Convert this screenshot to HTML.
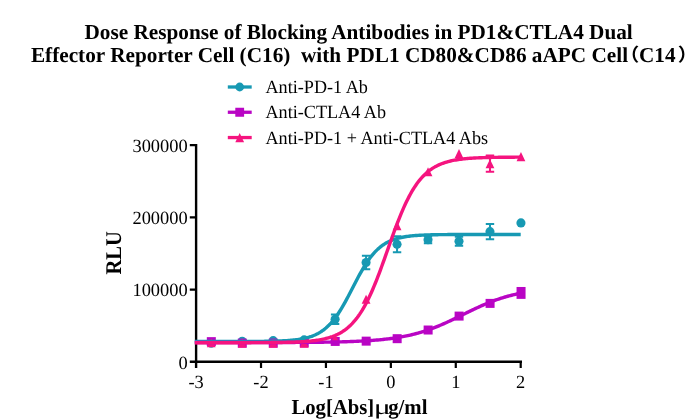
<!DOCTYPE html>
<html><head><meta charset="utf-8"><title>Dose Response</title>
<style>
html,body{margin:0;padding:0;background:#fff;}
svg{display:block;}
text{font-family:"Liberation Serif","Noto Serif CJK SC",serif;fill:#000;text-rendering:geometricPrecision;}
.t{font-size:18.67px;}
.l{font-size:18.67px;}
.b{font-size:21.33px;font-weight:bold;}
.cj{font-family:"Noto Sans CJK SC","Liberation Serif",sans-serif;font-weight:bold;font-size:18px;}
</style></head><body>
<svg width="695" height="420" viewBox="0 0 695 420">
<rect width="695" height="420" fill="#fff"/>
<text id="t1" transform="translate(358.65,38.50) scale(0.996,1)" text-anchor="middle" class="b">Dose Response of Blocking Antibodies in PD1&amp;CTLA4 Dual</text>
<text id="t2" transform="translate(30.90,62.20) scale(0.9965,1)" text-anchor="start" class="b" xml:space="preserve" style="white-space:pre">Effector Reporter Cell (C16)  with PDL1 CD80&amp;CD86 aAPC Cell</text>
<text id="t3" transform="translate(639.00,62.20) scale(0.993,1)" text-anchor="start" class="b">C14</text>
<text id="p1" transform="translate(639.30,61.40) scale(1.1,1)" text-anchor="end" class="b cj">（</text>
<text id="p2" transform="translate(677.80,61.40) scale(1.1,1)" text-anchor="start" class="b cj">）</text>
<path d="M227.8,87.0 H251.7" stroke="#1799b3" stroke-width="3.3" fill="none"/>
<circle cx="239.7" cy="87.0" r="4.4" fill="#1799b3"/>
<text transform="translate(265.50,93.10) scale(0.973,1)" text-anchor="start" class="l">Anti-PD-1 Ab</text>
<path d="M227.8,112.25 H251.7" stroke="#b905c4" stroke-width="3.3" fill="none"/>
<rect x="235.30" y="107.75" width="8.8" height="9" fill="#b905c4"/>
<text transform="translate(265.50,118.10) scale(0.973,1)" text-anchor="start" class="l">Anti-CTLA4 Ab</text>
<path d="M227.8,137.55 H251.7" stroke="#f5147f" stroke-width="3.3" fill="none"/>
<path d="M239.7,133.05 L244.10,142.15 H235.30 Z" fill="#f5147f"/>
<text transform="translate(265.50,143.60) scale(0.973,1)" text-anchor="start" class="l">Anti-PD-1 + Anti-CTLA4 Abs</text>
<path d="M196.1,143.9 V368 M189.8,361.7 H522" fill="none" stroke="#000" stroke-width="2.4"/>
<path d="M189.8,289.53 H196.1 M189.8,217.36 H196.1 M189.8,145.19 H196.1 M261.02,361.7 V368 M325.94,361.7 V368 M390.86,361.7 V368 M455.78,361.7 V368 M520.70,361.7 V368 " fill="none" stroke="#000" stroke-width="2.2"/>
<text transform="translate(187.70,368.50) scale(0.987,1)" text-anchor="end" class="t">0</text>
<text transform="translate(187.70,296.33) scale(0.987,1)" text-anchor="end" class="t">100000</text>
<text transform="translate(187.70,224.16) scale(0.987,1)" text-anchor="end" class="t">200000</text>
<text transform="translate(187.70,151.99) scale(0.987,1)" text-anchor="end" class="t">300000</text>
<text transform="translate(196.10,387.80) scale(0.985,1)" text-anchor="middle" class="t">-3</text>
<text transform="translate(261.02,387.80) scale(0.985,1)" text-anchor="middle" class="t">-2</text>
<text transform="translate(325.94,387.80) scale(0.985,1)" text-anchor="middle" class="t">-1</text>
<text transform="translate(390.86,387.80) scale(0.985,1)" text-anchor="middle" class="t">0</text>
<text transform="translate(455.78,387.80) scale(0.985,1)" text-anchor="middle" class="t">1</text>
<text transform="translate(520.70,387.80) scale(0.985,1)" text-anchor="middle" class="t">2</text>

<circle cx="211.22" cy="343.23" r="4.55" fill="#1799b3"/>

<circle cx="242.19" cy="341.28" r="4.55" fill="#1799b3"/>

<circle cx="273.16" cy="340.63" r="4.55" fill="#1799b3"/>

<circle cx="304.14" cy="339.91" r="4.55" fill="#1799b3"/>
<path d="M335.11,314.42 V324.12 M330.91,314.42 H339.31 M330.91,324.12 H339.31" fill="none" stroke="#1799b3" stroke-width="2.0"/>
<circle cx="335.11" cy="319.27" r="4.55" fill="#1799b3"/>
<path d="M366.08,255.74 V269.34 M361.88,255.74 H370.28 M361.88,269.34 H370.28" fill="none" stroke="#1799b3" stroke-width="2.0"/>
<circle cx="366.08" cy="262.54" r="4.55" fill="#1799b3"/>
<path d="M397.06,236.36 V252.36 M392.86,236.36 H401.26 M392.86,252.36 H401.26" fill="none" stroke="#1799b3" stroke-width="2.0"/>
<circle cx="397.06" cy="244.36" r="4.55" fill="#1799b3"/>
<path d="M428.03,236.17 V243.17 M423.83,236.17 H432.23 M423.83,243.17 H432.23" fill="none" stroke="#1799b3" stroke-width="2.0"/>
<circle cx="428.03" cy="239.67" r="4.55" fill="#1799b3"/>
<path d="M459.00,236.68 V245.68 M454.80,236.68 H463.20 M454.80,245.68 H463.20" fill="none" stroke="#1799b3" stroke-width="2.0"/>
<circle cx="459.00" cy="241.18" r="4.55" fill="#1799b3"/>
<path d="M489.98,224.06 V239.26 M485.78,224.06 H494.18 M485.78,239.26 H494.18" fill="none" stroke="#1799b3" stroke-width="2.0"/>
<circle cx="489.98" cy="231.66" r="4.55" fill="#1799b3"/>

<circle cx="520.95" cy="222.92" r="4.55" fill="#1799b3"/>
<rect x="206.82" y="337.14" width="9" height="9.00" fill="#b905c4"/>
<rect x="237.79" y="338.59" width="9" height="9.00" fill="#b905c4"/>
<rect x="268.76" y="338.59" width="9" height="9.00" fill="#b905c4"/>
<rect x="299.74" y="338.37" width="9" height="9.00" fill="#b905c4"/>
<rect x="330.71" y="336.93" width="9" height="9.00" fill="#b905c4"/>
<rect x="361.68" y="336.64" width="9" height="9.00" fill="#b905c4"/>
<rect x="392.66" y="334.18" width="9" height="9.00" fill="#b905c4"/>
<rect x="423.63" y="325.52" width="9" height="9.00" fill="#b905c4"/>
<rect x="454.60" y="311.59" width="9" height="9.00" fill="#b905c4"/>
<rect x="485.58" y="298.89" width="9" height="9.00" fill="#b905c4"/>
<rect x="516.55" y="286.98" width="9" height="11.90" fill="#b905c4"/>

<path d="M211.22,338.17 L215.62,347.27 H206.82 Z" fill="#f5147f"/>

<path d="M242.19,338.54 L246.59,347.64 H237.79 Z" fill="#f5147f"/>

<path d="M273.16,338.54 L277.56,347.64 H268.76 Z" fill="#f5147f"/>

<path d="M304.14,338.54 L308.54,347.64 H299.74 Z" fill="#f5147f"/>

<path d="M335.11,333.99 L339.51,343.09 H330.71 Z" fill="#f5147f"/>

<path d="M366.08,294.73 L370.48,303.83 H361.68 Z" fill="#f5147f"/>

<path d="M397.06,221.12 L401.46,230.22 H392.66 Z" fill="#f5147f"/>

<path d="M428.03,167.13 L432.43,176.23 H423.63 Z" fill="#f5147f"/>

<path d="M459.00,149.09 L463.40,158.19 H454.60 Z" fill="#f5147f"/>
<path d="M489.98,155.49 V171.69 M485.78,155.49 H494.18 M485.78,171.69 H494.18" fill="none" stroke="#f5147f" stroke-width="2.0"/>
<path d="M489.98,159.19 L494.38,168.29 H485.58 Z" fill="#f5147f"/>

<path d="M520.95,152.12 L525.35,161.22 H516.55 Z" fill="#f5147f"/>
<path d="M194.80,341.49 L196.10,341.49 L197.40,341.49 L198.70,341.49 L200.00,341.49 L201.29,341.49 L202.59,341.49 L203.89,341.49 L205.19,341.49 L206.49,341.49 L207.79,341.49 L209.08,341.49 L210.38,341.49 L211.68,341.49 L212.98,341.49 L214.28,341.49 L215.58,341.49 L216.87,341.49 L218.17,341.49 L219.47,341.49 L220.77,341.49 L222.07,341.48 L223.37,341.48 L224.66,341.48 L225.96,341.48 L227.26,341.48 L228.56,341.48 L229.86,341.48 L231.16,341.48 L232.46,341.48 L233.75,341.47 L235.05,341.47 L236.35,341.47 L237.65,341.47 L238.95,341.46 L240.25,341.46 L241.54,341.46 L242.84,341.46 L244.14,341.45 L245.44,341.45 L246.74,341.44 L248.04,341.44 L249.33,341.43 L250.63,341.43 L251.93,341.42 L253.23,341.41 L254.53,341.41 L255.83,341.40 L257.12,341.39 L258.42,341.38 L259.72,341.37 L261.02,341.35 L262.32,341.34 L263.62,341.33 L264.92,341.31 L266.21,341.29 L267.51,341.27 L268.81,341.25 L270.11,341.23 L271.41,341.20 L272.71,341.17 L274.00,341.14 L275.30,341.10 L276.60,341.07 L277.90,341.02 L279.20,340.98 L280.50,340.93 L281.79,340.87 L283.09,340.81 L284.39,340.74 L285.69,340.67 L286.99,340.59 L288.29,340.50 L289.58,340.40 L290.88,340.30 L292.18,340.18 L293.48,340.05 L294.78,339.91 L296.08,339.76 L297.38,339.59 L298.67,339.41 L299.97,339.20 L301.27,338.98 L302.57,338.74 L303.87,338.48 L305.17,338.19 L306.46,337.87 L307.76,337.52 L309.06,337.15 L310.36,336.74 L311.66,336.29 L312.96,335.80 L314.25,335.27 L315.55,334.69 L316.85,334.07 L318.15,333.39 L319.45,332.65 L320.75,331.85 L322.04,330.99 L323.34,330.06 L324.64,329.06 L325.94,327.99 L327.24,326.84 L328.54,325.60 L329.84,324.28 L331.13,322.87 L332.43,321.37 L333.73,319.79 L335.03,318.11 L336.33,316.34 L337.63,314.47 L338.92,312.52 L340.22,310.49 L341.52,308.37 L342.82,306.17 L344.12,303.90 L345.42,301.57 L346.71,299.18 L348.01,296.74 L349.31,294.26 L350.61,291.76 L351.91,289.24 L353.21,286.72 L354.50,284.20 L355.80,281.69 L357.10,279.22 L358.40,276.78 L359.70,274.39 L361.00,272.06 L362.30,269.79 L363.59,267.59 L364.89,265.47 L366.19,263.43 L367.49,261.48 L368.79,259.62 L370.09,257.85 L371.38,256.17 L372.68,254.58 L373.98,253.08 L375.28,251.68 L376.58,250.36 L377.88,249.12 L379.17,247.97 L380.47,246.89 L381.77,245.89 L383.07,244.96 L384.37,244.10 L385.67,243.31 L386.96,242.57 L388.26,241.89 L389.56,241.26 L390.86,240.69 L392.16,240.16 L393.46,239.67 L394.76,239.22 L396.05,238.81 L397.35,238.43 L398.65,238.09 L399.95,237.77 L401.25,237.48 L402.55,237.22 L403.84,236.97 L405.14,236.75 L406.44,236.55 L407.74,236.37 L409.04,236.20 L410.34,236.04 L411.63,235.90 L412.93,235.78 L414.23,235.66 L415.53,235.55 L416.83,235.46 L418.13,235.37 L419.42,235.29 L420.72,235.21 L422.02,235.15 L423.32,235.08 L424.62,235.03 L425.92,234.98 L427.22,234.93 L428.51,234.89 L429.81,234.85 L431.11,234.82 L432.41,234.79 L433.71,234.76 L435.01,234.73 L436.30,234.71 L437.60,234.68 L438.90,234.66 L440.20,234.65 L441.50,234.63 L442.80,234.62 L444.09,234.60 L445.39,234.59 L446.69,234.58 L447.99,234.57 L449.29,234.56 L450.59,234.55 L451.88,234.54 L453.18,234.54 L454.48,234.53 L455.78,234.52 L457.08,234.52 L458.38,234.51 L459.68,234.51 L460.97,234.50 L462.27,234.50 L463.57,234.50 L464.87,234.49 L466.17,234.49 L467.47,234.49 L468.76,234.49 L470.06,234.49 L471.36,234.48 L472.66,234.48 L473.96,234.48 L475.26,234.48 L476.55,234.48 L477.85,234.48 L479.15,234.48 L480.45,234.47 L481.75,234.47 L483.05,234.47 L484.34,234.47 L485.64,234.47 L486.94,234.47 L488.24,234.47 L489.54,234.47 L490.84,234.47 L492.14,234.47 L493.43,234.47 L494.73,234.47 L496.03,234.47 L497.33,234.47 L498.63,234.47 L499.93,234.47 L501.22,234.47 L502.52,234.47 L503.82,234.47 L505.12,234.47 L506.42,234.47 L507.72,234.47 L509.01,234.47 L510.31,234.47 L511.61,234.47 L512.91,234.47 L514.21,234.47 L515.51,234.47 L516.80,234.46 L518.10,234.46 L519.40,234.46 L520.70,234.46" fill="none" stroke="#1799b3" stroke-width="3.4" stroke-linejoin="round"/>
<path d="M194.80,342.57 L196.10,342.57 L197.40,342.57 L198.70,342.57 L200.00,342.57 L201.29,342.57 L202.59,342.57 L203.89,342.57 L205.19,342.57 L206.49,342.57 L207.79,342.57 L209.08,342.57 L210.38,342.57 L211.68,342.57 L212.98,342.57 L214.28,342.57 L215.58,342.57 L216.87,342.57 L218.17,342.57 L219.47,342.57 L220.77,342.57 L222.07,342.56 L223.37,342.56 L224.66,342.56 L225.96,342.56 L227.26,342.56 L228.56,342.56 L229.86,342.56 L231.16,342.56 L232.46,342.56 L233.75,342.56 L235.05,342.56 L236.35,342.56 L237.65,342.56 L238.95,342.56 L240.25,342.55 L241.54,342.55 L242.84,342.55 L244.14,342.55 L245.44,342.55 L246.74,342.55 L248.04,342.55 L249.33,342.55 L250.63,342.55 L251.93,342.54 L253.23,342.54 L254.53,342.54 L255.83,342.54 L257.12,342.54 L258.42,342.54 L259.72,342.53 L261.02,342.53 L262.32,342.53 L263.62,342.53 L264.92,342.53 L266.21,342.52 L267.51,342.52 L268.81,342.52 L270.11,342.52 L271.41,342.51 L272.71,342.51 L274.00,342.51 L275.30,342.50 L276.60,342.50 L277.90,342.50 L279.20,342.49 L280.50,342.49 L281.79,342.48 L283.09,342.48 L284.39,342.48 L285.69,342.47 L286.99,342.47 L288.29,342.46 L289.58,342.46 L290.88,342.45 L292.18,342.44 L293.48,342.44 L294.78,342.43 L296.08,342.42 L297.38,342.42 L298.67,342.41 L299.97,342.40 L301.27,342.39 L302.57,342.38 L303.87,342.38 L305.17,342.37 L306.46,342.36 L307.76,342.35 L309.06,342.34 L310.36,342.32 L311.66,342.31 L312.96,342.30 L314.25,342.29 L315.55,342.27 L316.85,342.26 L318.15,342.25 L319.45,342.23 L320.75,342.21 L322.04,342.20 L323.34,342.18 L324.64,342.16 L325.94,342.14 L327.24,342.12 L328.54,342.10 L329.84,342.08 L331.13,342.05 L332.43,342.03 L333.73,342.00 L335.03,341.98 L336.33,341.95 L337.63,341.92 L338.92,341.89 L340.22,341.86 L341.52,341.83 L342.82,341.79 L344.12,341.75 L345.42,341.72 L346.71,341.68 L348.01,341.63 L349.31,341.59 L350.61,341.55 L351.91,341.50 L353.21,341.45 L354.50,341.40 L355.80,341.34 L357.10,341.28 L358.40,341.23 L359.70,341.16 L361.00,341.10 L362.30,341.03 L363.59,340.96 L364.89,340.89 L366.19,340.81 L367.49,340.73 L368.79,340.65 L370.09,340.56 L371.38,340.47 L372.68,340.37 L373.98,340.27 L375.28,340.17 L376.58,340.06 L377.88,339.95 L379.17,339.83 L380.47,339.71 L381.77,339.58 L383.07,339.45 L384.37,339.31 L385.67,339.16 L386.96,339.01 L388.26,338.86 L389.56,338.69 L390.86,338.53 L392.16,338.35 L393.46,338.17 L394.76,337.98 L396.05,337.78 L397.35,337.57 L398.65,337.36 L399.95,337.14 L401.25,336.91 L402.55,336.67 L403.84,336.42 L405.14,336.17 L406.44,335.90 L407.74,335.62 L409.04,335.34 L410.34,335.05 L411.63,334.74 L412.93,334.43 L414.23,334.10 L415.53,333.77 L416.83,333.42 L418.13,333.06 L419.42,332.69 L420.72,332.31 L422.02,331.92 L423.32,331.52 L424.62,331.11 L425.92,330.68 L427.22,330.25 L428.51,329.80 L429.81,329.34 L431.11,328.87 L432.41,328.39 L433.71,327.90 L435.01,327.40 L436.30,326.88 L437.60,326.36 L438.90,325.83 L440.20,325.28 L441.50,324.73 L442.80,324.17 L444.09,323.60 L445.39,323.02 L446.69,322.43 L447.99,321.83 L449.29,321.23 L450.59,320.62 L451.88,320.01 L453.18,319.39 L454.48,318.76 L455.78,318.13 L457.08,317.50 L458.38,316.86 L459.68,316.23 L460.97,315.59 L462.27,314.95 L463.57,314.31 L464.87,313.67 L466.17,313.03 L467.47,312.39 L468.76,311.75 L470.06,311.12 L471.36,310.49 L472.66,309.87 L473.96,309.25 L475.26,308.64 L476.55,308.03 L477.85,307.43 L479.15,306.84 L480.45,306.25 L481.75,305.67 L483.05,305.10 L484.34,304.54 L485.64,303.99 L486.94,303.45 L488.24,302.92 L489.54,302.40 L490.84,301.89 L492.14,301.39 L493.43,300.90 L494.73,300.42 L496.03,299.96 L497.33,299.50 L498.63,299.06 L499.93,298.62 L501.22,298.20 L502.52,297.79 L503.82,297.39 L505.12,297.00 L506.42,296.63 L507.72,296.26 L509.01,295.91 L510.31,295.56 L511.61,295.23 L512.91,294.91 L514.21,294.60 L515.51,294.30 L516.80,294.00 L518.10,293.72 L519.40,293.45 L520.70,293.19" fill="none" stroke="#b905c4" stroke-width="3.4" stroke-linejoin="round"/>
<path d="M194.80,342.72 L196.10,342.72 L197.40,342.72 L198.70,342.72 L200.00,342.72 L201.29,342.72 L202.59,342.72 L203.89,342.72 L205.19,342.72 L206.49,342.72 L207.79,342.72 L209.08,342.72 L210.38,342.72 L211.68,342.72 L212.98,342.71 L214.28,342.71 L215.58,342.71 L216.87,342.71 L218.17,342.71 L219.47,342.71 L220.77,342.71 L222.07,342.71 L223.37,342.71 L224.66,342.71 L225.96,342.71 L227.26,342.71 L228.56,342.71 L229.86,342.71 L231.16,342.71 L232.46,342.70 L233.75,342.70 L235.05,342.70 L236.35,342.70 L237.65,342.70 L238.95,342.70 L240.25,342.70 L241.54,342.69 L242.84,342.69 L244.14,342.69 L245.44,342.69 L246.74,342.68 L248.04,342.68 L249.33,342.68 L250.63,342.68 L251.93,342.67 L253.23,342.67 L254.53,342.66 L255.83,342.66 L257.12,342.65 L258.42,342.65 L259.72,342.64 L261.02,342.64 L262.32,342.63 L263.62,342.62 L264.92,342.62 L266.21,342.61 L267.51,342.60 L268.81,342.59 L270.11,342.58 L271.41,342.56 L272.71,342.55 L274.00,342.54 L275.30,342.52 L276.60,342.51 L277.90,342.49 L279.20,342.47 L280.50,342.45 L281.79,342.43 L283.09,342.40 L284.39,342.38 L285.69,342.35 L286.99,342.32 L288.29,342.29 L289.58,342.25 L290.88,342.21 L292.18,342.17 L293.48,342.13 L294.78,342.08 L296.08,342.02 L297.38,341.97 L298.67,341.91 L299.97,341.84 L301.27,341.77 L302.57,341.69 L303.87,341.60 L305.17,341.51 L306.46,341.41 L307.76,341.31 L309.06,341.19 L310.36,341.07 L311.66,340.93 L312.96,340.79 L314.25,340.63 L315.55,340.46 L316.85,340.28 L318.15,340.08 L319.45,339.86 L320.75,339.63 L322.04,339.38 L323.34,339.11 L324.64,338.82 L325.94,338.51 L327.24,338.17 L328.54,337.80 L329.84,337.41 L331.13,336.98 L332.43,336.53 L333.73,336.03 L335.03,335.50 L336.33,334.93 L337.63,334.32 L338.92,333.66 L340.22,332.96 L341.52,332.20 L342.82,331.38 L344.12,330.51 L345.42,329.58 L346.71,328.57 L348.01,327.50 L349.31,326.36 L350.61,325.14 L351.91,323.84 L353.21,322.45 L354.50,320.98 L355.80,319.41 L357.10,317.75 L358.40,315.98 L359.70,314.12 L361.00,312.15 L362.30,310.07 L363.59,307.89 L364.89,305.59 L366.19,303.18 L367.49,300.66 L368.79,298.03 L370.09,295.29 L371.38,292.44 L372.68,289.48 L373.98,286.42 L375.28,283.27 L376.58,280.02 L377.88,276.69 L379.17,273.29 L380.47,269.81 L381.77,266.28 L383.07,262.69 L384.37,259.07 L385.67,255.42 L386.96,251.75 L388.26,248.07 L389.56,244.40 L390.86,240.75 L392.16,237.13 L393.46,233.54 L394.76,230.01 L396.05,226.53 L397.35,223.12 L398.65,219.79 L399.95,216.55 L401.25,213.39 L402.55,210.34 L403.84,207.38 L405.14,204.53 L406.44,201.79 L407.74,199.16 L409.04,196.64 L410.34,194.23 L411.63,191.93 L412.93,189.74 L414.23,187.67 L415.53,185.70 L416.83,183.83 L418.13,182.07 L419.42,180.41 L420.72,178.84 L422.02,177.37 L423.32,175.98 L424.62,174.68 L425.92,173.46 L427.22,172.31 L428.51,171.24 L429.81,170.24 L431.11,169.31 L432.41,168.43 L433.71,167.62 L435.01,166.86 L436.30,166.15 L437.60,165.50 L438.90,164.88 L440.20,164.31 L441.50,163.78 L442.80,163.29 L444.09,162.83 L445.39,162.41 L446.69,162.02 L447.99,161.65 L449.29,161.31 L450.59,161.00 L451.88,160.71 L453.18,160.44 L454.48,160.19 L455.78,159.95 L457.08,159.74 L458.38,159.54 L459.68,159.36 L460.97,159.19 L462.27,159.03 L463.57,158.88 L464.87,158.75 L466.17,158.63 L467.47,158.51 L468.76,158.40 L470.06,158.30 L471.36,158.21 L472.66,158.13 L473.96,158.05 L475.26,157.98 L476.55,157.91 L477.85,157.85 L479.15,157.79 L480.45,157.74 L481.75,157.69 L483.05,157.65 L484.34,157.60 L485.64,157.57 L486.94,157.53 L488.24,157.50 L489.54,157.47 L490.84,157.44 L492.14,157.41 L493.43,157.39 L494.73,157.37 L496.03,157.35 L497.33,157.33 L498.63,157.31 L499.93,157.29 L501.22,157.28 L502.52,157.27 L503.82,157.25 L505.12,157.24 L506.42,157.23 L507.72,157.22 L509.01,157.21 L510.31,157.20 L511.61,157.19 L512.91,157.19 L514.21,157.18 L515.51,157.17 L516.80,157.17 L518.10,157.16 L519.40,157.16 L520.70,157.15" fill="none" stroke="#f5147f" stroke-width="3.4" stroke-linejoin="round"/>
<text id="yl" transform="translate(121.0,252.8) scale(1.09,1) rotate(-90)" text-anchor="middle" class="b" style="font-size:20.6px">RLU</text>
<text id="xl" transform="translate(374.20,413.90) scale(0.97,1)" text-anchor="end" class="b">Log[Abs]</text>
<text id="xm" transform="translate(373.80,413.90) scale(1.5,1)" text-anchor="start" class="b" style="font-weight:normal">μ</text>
<text id="xr" transform="translate(388.20,413.90) scale(0.975,1)" text-anchor="start" class="b">g/ml</text>
</svg>
</body></html>
